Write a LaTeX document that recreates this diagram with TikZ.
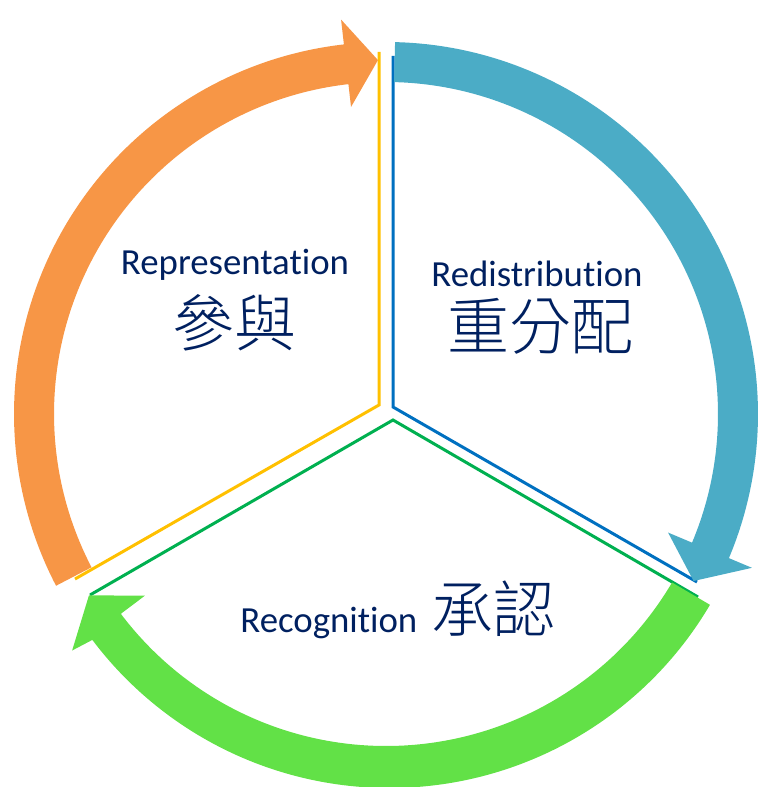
\documentclass[tikz,border=0pt]{standalone}
\usepackage{fontspec}
\setmainfont{Carlito}[Ligatures=NoCommon]
\newfontfamily\cjk{Noto Sans CJK TC}[UprightFont={* Light}]
\definecolor{repOrange}{HTML}{F79646}
\definecolor{redisBlue}{HTML}{4BACC6}
\definecolor{recogGreen}{HTML}{62E147}
\definecolor{edgeYellow}{HTML}{FFC000}
\definecolor{edgeBlue}{HTML}{0070C0}
\definecolor{edgeGreen}{HTML}{00B050}
\definecolor{txtNavy}{HTML}{002060}

\begin{document}
\begin{tikzpicture}[x=0.5pt, y=0.5pt,
  edge/.style={line width=1.5pt, line join=miter},
  latin/.style={text=txtNavy, font=\fontsize{18.4}{20}\selectfont, inner sep=0pt},
  hanzi/.style={text=txtNavy, font=\cjk\fontsize{31}{33}\selectfont, inner sep=0pt}]
  \useasboundingbox (0,0) rectangle (760,787);
  \coordinate (C) at (386,373);

  % ---- Hrany vysecu ----
  \coordinate (ytop) at (379,735);
  \coordinate (ymid) at (379,382);
  \coordinate (ylow) at (75,208);
  \coordinate (btop) at (393,731);
  \coordinate (bmid) at (393,380);
  \coordinate (blow) at (697,205);
  \coordinate (gleft) at (90,192);
  \coordinate (gmid) at (393,367);
  \coordinate (gright) at (698,190);
  \draw[edge, edgeYellow] (ytop) -- (ymid) -- (ylow);
  \draw[edge, edgeBlue] (btop) -- (bmid) -- (blow);
  \draw[edge, edgeGreen] (gleft) -- (gmid) -- (gright);

  % ---- Sipky (kruh) ----
  \fill[repOrange, shift={(C)}] (207.5:372) arc[start angle=207.5, end angle=96.5, radius=372]
    -- (96.5:397) -- (91.3:354) -- (96.5:309) -- (96.5:332)
    arc[start angle=96.5, end angle=207.5, radius=332] -- cycle;
  \fill[redisBlue, shift={(C)}] (88.6:372) arc[start angle=88.6, end angle=-22.8, radius=372]
    -- (-22.8:397) -- (-28.5:350) -- (-22.8:306) -- (-22.8:332)
    arc[start angle=-22.8, end angle=88.6, radius=332] -- cycle;
  \fill[recogGreen, shift={(C)}] (-30.5:376) arc[start angle=-30.5, end angle=-143, radius=372]
    -- (-143:393) -- (-148.6:348) -- (-143:302) -- (-143:332)
    arc[start angle=-143, end angle=-30.5, radius=332] -- cycle;

  % ---- Popisky ----
  \node[latin, anchor=base] (rep) at (235,512) {Representation};
  \node[hanzi] (repzh) at (234,464) {參與};
  \node[latin, anchor=base] (redis) at (537,500) {Redistribution};
  \node[hanzi] (rediszh) at (540,461) {重分配};
  \node[latin, anchor=base west] (recog) at (240,154) {Recognition \,{\cjk\fontsize{31}{33}\selectfont 承認}};
\end{tikzpicture}
\end{document}
